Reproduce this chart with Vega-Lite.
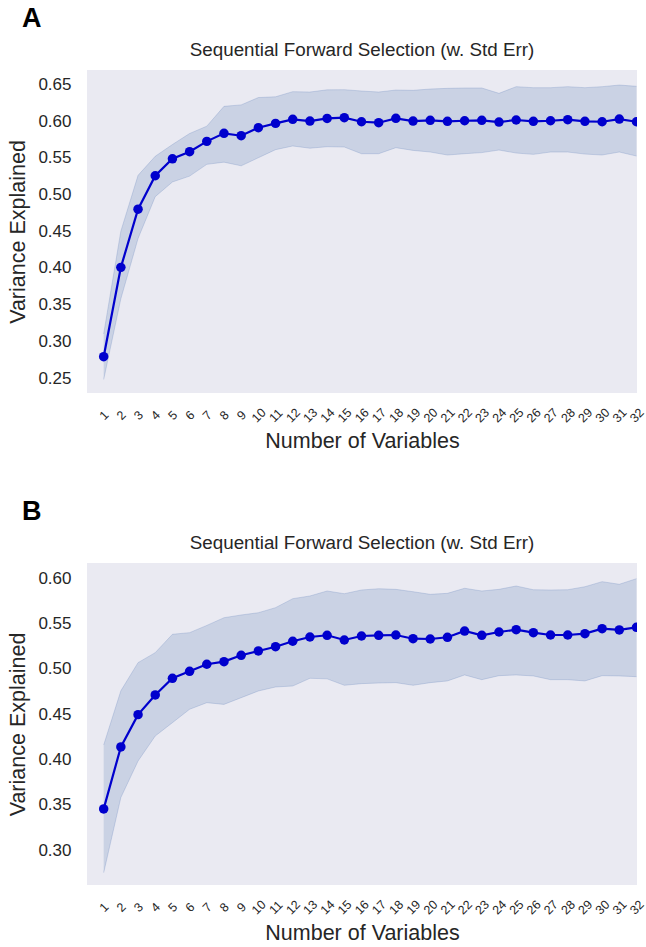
{
  "$schema": "https://vega.github.io/schema/vega-lite/v6.json",
  "background": "white",
  "padding": {"left": 7, "top": 5, "right": 4, "bottom": 4},
  "spacing": 45,
  "datasets": {
    "a": [
      {"n": 1, "mean": 0.279, "lo": 0.248, "hi": 0.31},
      {"n": 2, "mean": 0.4007, "lo": 0.358, "hi": 0.45},
      {"n": 3, "mean": 0.48, "lo": 0.44, "hi": 0.526},
      {"n": 4, "mean": 0.5255, "lo": 0.497, "hi": 0.552},
      {"n": 5, "mean": 0.5486, "lo": 0.517, "hi": 0.568},
      {"n": 6, "mean": 0.5582, "lo": 0.525, "hi": 0.583},
      {"n": 7, "mean": 0.5723, "lo": 0.541, "hi": 0.593},
      {"n": 8, "mean": 0.5832, "lo": 0.544, "hi": 0.62},
      {"n": 9, "mean": 0.58, "lo": 0.539, "hi": 0.622},
      {"n": 10, "mean": 0.5909, "lo": 0.55, "hi": 0.632},
      {"n": 11, "mean": 0.5968, "lo": 0.561, "hi": 0.633},
      {"n": 12, "mean": 0.6023, "lo": 0.566, "hi": 0.64},
      {"n": 13, "mean": 0.6, "lo": 0.563, "hi": 0.6395},
      {"n": 14, "mean": 0.6035, "lo": 0.565, "hi": 0.6425},
      {"n": 15, "mean": 0.6045, "lo": 0.5646, "hi": 0.6427},
      {"n": 16, "mean": 0.599, "lo": 0.5555, "hi": 0.6409},
      {"n": 17, "mean": 0.5977, "lo": 0.5555, "hi": 0.6395},
      {"n": 18, "mean": 0.6037, "lo": 0.5637, "hi": 0.6422},
      {"n": 19, "mean": 0.6, "lo": 0.56, "hi": 0.6418},
      {"n": 20, "mean": 0.601, "lo": 0.5578, "hi": 0.6436},
      {"n": 21, "mean": 0.5996, "lo": 0.5537, "hi": 0.6445},
      {"n": 22, "mean": 0.6004, "lo": 0.5555, "hi": 0.645},
      {"n": 23, "mean": 0.601, "lo": 0.557, "hi": 0.645},
      {"n": 24, "mean": 0.5986, "lo": 0.5605, "hi": 0.6377},
      {"n": 25, "mean": 0.6014, "lo": 0.5564, "hi": 0.6468},
      {"n": 26, "mean": 0.5996, "lo": 0.5546, "hi": 0.6454},
      {"n": 27, "mean": 0.6004, "lo": 0.5578, "hi": 0.6454},
      {"n": 28, "mean": 0.6018, "lo": 0.5578, "hi": 0.6468},
      {"n": 29, "mean": 0.5996, "lo": 0.555, "hi": 0.6454},
      {"n": 30, "mean": 0.599, "lo": 0.5537, "hi": 0.6468},
      {"n": 31, "mean": 0.6027, "lo": 0.5578, "hi": 0.649},
      {"n": 32, "mean": 0.599, "lo": 0.5523, "hi": 0.6473}
    ],
    "b": [
      {"n": 1, "mean": 0.3454, "lo": 0.275, "hi": 0.416},
      {"n": 2, "mean": 0.4138, "lo": 0.358, "hi": 0.4758},
      {"n": 3, "mean": 0.4495, "lo": 0.3983, "hi": 0.5069},
      {"n": 4, "mean": 0.4712, "lo": 0.4259, "hi": 0.5179},
      {"n": 5, "mean": 0.4896, "lo": 0.4406, "hi": 0.5382},
      {"n": 6, "mean": 0.4973, "lo": 0.4554, "hi": 0.54},
      {"n": 7, "mean": 0.5051, "lo": 0.4627, "hi": 0.548},
      {"n": 8, "mean": 0.508, "lo": 0.4608, "hi": 0.5565},
      {"n": 9, "mean": 0.515, "lo": 0.4682, "hi": 0.5595},
      {"n": 10, "mean": 0.5198, "lo": 0.4756, "hi": 0.562},
      {"n": 11, "mean": 0.5245, "lo": 0.48, "hi": 0.5676},
      {"n": 12, "mean": 0.5305, "lo": 0.4811, "hi": 0.5775},
      {"n": 13, "mean": 0.5352, "lo": 0.4896, "hi": 0.5805},
      {"n": 14, "mean": 0.5371, "lo": 0.489, "hi": 0.586},
      {"n": 15, "mean": 0.5319, "lo": 0.4819, "hi": 0.583},
      {"n": 16, "mean": 0.5363, "lo": 0.4837, "hi": 0.5871},
      {"n": 17, "mean": 0.5371, "lo": 0.4844, "hi": 0.5885},
      {"n": 18, "mean": 0.5374, "lo": 0.4848, "hi": 0.5878},
      {"n": 19, "mean": 0.5333, "lo": 0.4819, "hi": 0.5852},
      {"n": 20, "mean": 0.533, "lo": 0.4848, "hi": 0.5823},
      {"n": 21, "mean": 0.5349, "lo": 0.4867, "hi": 0.5834},
      {"n": 22, "mean": 0.5418, "lo": 0.4933, "hi": 0.589},
      {"n": 23, "mean": 0.5371, "lo": 0.4881, "hi": 0.586},
      {"n": 24, "mean": 0.5407, "lo": 0.4925, "hi": 0.5878},
      {"n": 25, "mean": 0.5433, "lo": 0.4933, "hi": 0.5915},
      {"n": 26, "mean": 0.54, "lo": 0.4922, "hi": 0.5874},
      {"n": 27, "mean": 0.5374, "lo": 0.4881, "hi": 0.5871},
      {"n": 28, "mean": 0.5374, "lo": 0.4881, "hi": 0.5874},
      {"n": 29, "mean": 0.5389, "lo": 0.4867, "hi": 0.5907},
      {"n": 30, "mean": 0.5444, "lo": 0.4925, "hi": 0.5963},
      {"n": 31, "mean": 0.543, "lo": 0.4922, "hi": 0.5934},
      {"n": 32, "mean": 0.5459, "lo": 0.4914, "hi": 0.5996}
    ]
  },
  "vconcat": [
    {
      "title": {"text": "A", "anchor": "start", "fontSize": 27, "fontWeight": "bold", "color": "black", "font": "Liberation Sans", "frame": "bounds", "dx": 14, "offset": 8},
      "vconcat": [
        {
          "width": 550,
          "height": 323,
          "title": {"text": "Sequential Forward Selection (w. Std Err)", "fontSize": 18.8, "fontWeight": "normal", "font": "Liberation Sans", "color": "#262626", "anchor": "middle", "offset": 10},
          "data": {"name": "a"},
          "encoding": {
            "x": {"field": "n", "type": "quantitative", "title": "Number of Variables",
                  "scale": {"domain": [0.03, 32.03], "nice": false, "zero": false},
                  "axis": {"values": [1,2,3,4,5,6,7,8,9,10,11,12,13,14,15,16,17,18,19,20,21,22,23,24,25,26,27,28,29,30,31,32], "format": "d"}}
          },
          "layer": [
            {"mark": {"type": "area", "color": "#4C72B0", "opacity": 0.2, "clip": true},
             "encoding": {"y": {"field": "lo", "type": "quantitative", "title": "Variance Explained", "scale": {"domain": [0.2296, 0.6695], "nice": false, "zero": false},
                                "axis": {"values": [0.25,0.3,0.35,0.4,0.45,0.5,0.55,0.6,0.65], "format": ".2f"}},
                          "y2": {"field": "hi"}}},
            {"mark": {"type": "line", "color": "#4C72B0", "opacity": 0.22, "strokeWidth": 1, "clip": true},
             "encoding": {"y": {"field": "hi", "type": "quantitative", "title": "Variance Explained"}}},
            {"mark": {"type": "line", "color": "#4C72B0", "opacity": 0.22, "strokeWidth": 1, "clip": true},
             "encoding": {"y": {"field": "lo", "type": "quantitative", "title": "Variance Explained"}}},
            {"mark": {"type": "line", "color": "#0000CD", "strokeWidth": 2.2, "clip": true},
             "encoding": {"y": {"field": "mean", "type": "quantitative", "title": "Variance Explained"}}},
            {"mark": {"type": "circle", "color": "#0000CD", "size": 90, "opacity": 1, "clip": true},
             "encoding": {"y": {"field": "mean", "type": "quantitative", "title": "Variance Explained"}}}
          ]
        }
      ]
    },
    {
      "title": {"text": "B", "anchor": "start", "fontSize": 27, "fontWeight": "bold", "color": "black", "font": "Liberation Sans", "frame": "bounds", "dx": 14, "offset": 8},
      "vconcat": [
        {
          "width": 550,
          "height": 322,
          "title": {"text": "Sequential Forward Selection (w. Std Err)", "fontSize": 18.8, "fontWeight": "normal", "font": "Liberation Sans", "color": "#262626", "anchor": "middle", "offset": 10},
          "data": {"name": "b"},
          "encoding": {
            "x": {"field": "n", "type": "quantitative", "title": "Number of Variables",
                  "scale": {"domain": [0.03, 32.03], "nice": false, "zero": false},
                  "axis": {"values": [1,2,3,4,5,6,7,8,9,10,11,12,13,14,15,16,17,18,19,20,21,22,23,24,25,26,27,28,29,30,31,32], "format": "d"}}
          },
          "layer": [
            {"mark": {"type": "area", "color": "#4C72B0", "opacity": 0.2, "clip": true},
             "encoding": {"y": {"field": "lo", "type": "quantitative", "title": "Variance Explained", "scale": {"domain": [0.2614, 0.6169], "nice": false, "zero": false},
                                "axis": {"values": [0.3,0.35,0.4,0.45,0.5,0.55,0.6], "format": ".2f"}},
                          "y2": {"field": "hi"}}},
            {"mark": {"type": "line", "color": "#4C72B0", "opacity": 0.22, "strokeWidth": 1, "clip": true},
             "encoding": {"y": {"field": "hi", "type": "quantitative", "title": "Variance Explained"}}},
            {"mark": {"type": "line", "color": "#4C72B0", "opacity": 0.22, "strokeWidth": 1, "clip": true},
             "encoding": {"y": {"field": "lo", "type": "quantitative", "title": "Variance Explained"}}},
            {"mark": {"type": "line", "color": "#0000CD", "strokeWidth": 2.2, "clip": true},
             "encoding": {"y": {"field": "mean", "type": "quantitative", "title": "Variance Explained"}}},
            {"mark": {"type": "circle", "color": "#0000CD", "size": 90, "opacity": 1, "clip": true},
             "encoding": {"y": {"field": "mean", "type": "quantitative", "title": "Variance Explained"}}}
          ]
        }
      ]
    }
  ],
  "config": {
    "font": "Liberation Sans",
    "view": {"fill": "#EAEAF2", "stroke": null},
    "axis": {"grid": false, "domain": false, "ticks": false, "tickSize": 0, "labelColor": "#262626", "titleColor": "#262626", "titleFontWeight": "normal", "titleFontSize": 21.5, "labelFont": "Liberation Sans", "titleFont": "Liberation Sans"},
    "axisY": {"labelFontSize": 17, "labelPadding": 16, "titlePadding": 8},
    "axisX": {"labelFontSize": 12.5, "labelAngle": -45, "labelAlign": "center", "labelBaseline": "middle", "labelPadding": 22, "labelOverlap": false, "labelFlush": false, "labelBound": false, "titlePadding": 6}
  }
}
